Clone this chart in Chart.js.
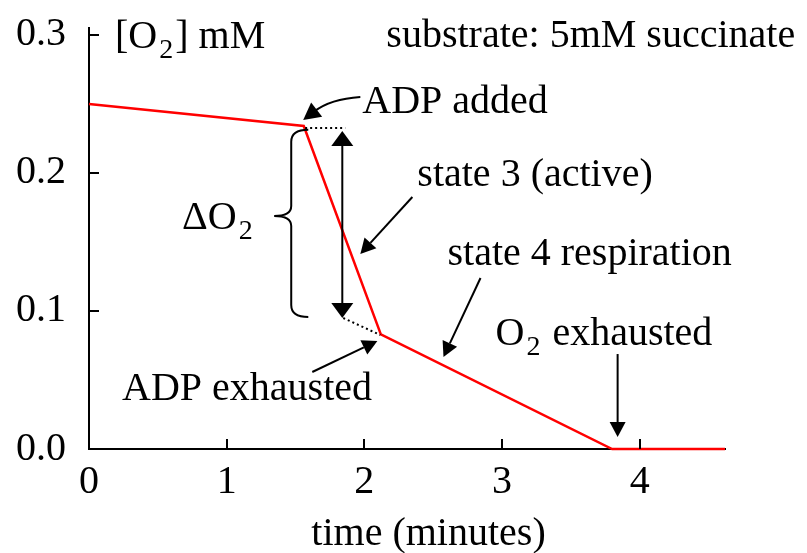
<!DOCTYPE html>
<html><head><meta charset="utf-8">
<script src="https://cdn.jsdelivr.net/npm/chart.js@4"></script>
<style>html,body{margin:0;padding:0;background:#fff;overflow:hidden}</style>
</head><body>
<canvas id="c" width="807" height="553"></canvas>
<script>
// ---- data ----
const timeMin = [0, 1.56, 2.12, 3.80, 4.62];
const o2mM    = [0.250, 0.234, 0.083, 0.0, 0.0];
const xTickValues = [0, 1, 2, 3, 4];
const yTickValues = [0.0, 0.1, 0.2, 0.3];
const xTitle = 'time (minutes)';
const substrateText = 'substrate: 5mM succinate';

const FONT = 'Liberation Serif';
const FS = 40;

// annotation layout (data coordinates)
const texts = [
  {parts:[['[O',0],['2',1],['] mM',0]], x:0.189, y:0.2906},
  {parts:[[substrateText,0]], x:2.160, y:0.2913},
  {parts:[['ADP added',0]], x:1.985, y:0.2435},
  {parts:[['state 3 (active)',0]], x:2.385, y:0.1906},
  {parts:[['\u0394O',0],['2',1]], x:0.676, y:0.1594},
  {parts:[['state 4 respiration',0]], x:2.604, y:0.1333},
  {parts:[['O',0],['2',1],[' exhausted',0]], x:2.953, y:0.0754},
  {parts:[['ADP exhausted',0]], x:0.240, y:0.0355},
  {parts:[[xTitle,0]], x:1.615, y:-0.0696}
];
const arrows = [
  {from:[2.349,0.1826], to:[1.971,0.1413]},
  {from:[2.844,0.1239], to:[2.575,0.0667]},
  {from:[3.84,0.0688],  to:[3.84,0.0087]},
  {from:[1.622,0.0558], to:[2.095,0.0783]}
];

const annot = {
  id:'annot',
  afterDraw(chart){
    const ctx = chart.ctx, xs = chart.scales.x, ys = chart.scales.y;
    const P = (x,y)=>[xs.getPixelForValue(x), ys.getPixelForValue(y)];
    ctx.save();
    // inward tick marks
    ctx.strokeStyle='#000'; ctx.lineWidth=2;
    const x0 = xs.getPixelForValue(0), y0 = ys.getPixelForValue(0);
    yTickValues.forEach(v=>{ if(v===0) return; const py=Math.round(ys.getPixelForValue(v)); ctx.beginPath(); ctx.moveTo(x0,py); ctx.lineTo(x0+10,py); ctx.stroke(); });
    xTickValues.forEach(v=>{ if(v===0) return; const px=Math.round(xs.getPixelForValue(v)); ctx.beginPath(); ctx.moveTo(px,y0); ctx.lineTo(px,y0-10); ctx.stroke(); });

    // texts
    ctx.fillStyle='#000'; ctx.textBaseline='alphabetic'; ctx.textAlign='left';
    texts.forEach(t=>{
      let [px,py] = P(t.x,t.y);
      t.parts.forEach(([s,sub])=>{
        if(sub){ ctx.font = '28px "'+FONT+'"'; ctx.fillText(s, px+2, py+10); px += ctx.measureText(s).width+4; }
        else { ctx.font = FS+'px "'+FONT+'"'; ctx.fillText(s, px, py); px += ctx.measureText(s).width; }
      });
    });

    function head(tx,ty,fx,fy,len,hw){
      const a=Math.atan2(ty-fy,tx-fx), c=Math.cos(a), s=Math.sin(a);
      const bx=tx-len*c, by=ty-len*s;
      ctx.beginPath(); ctx.moveTo(tx,ty); ctx.lineTo(bx - hw*s, by + hw*c); ctx.lineTo(bx + hw*s, by - hw*c); ctx.closePath(); ctx.fill();
      return [bx,by];
    }
    ctx.lineWidth=2; ctx.strokeStyle='#000'; ctx.fillStyle='#000';
    arrows.forEach(a=>{
      const [fx,fy]=P(...a.from), [tx,ty]=P(...a.to);
      const [bx,by]=head(tx,ty,fx,fy,15,8);
      ctx.beginPath(); ctx.moveTo(fx,fy); ctx.lineTo(bx,by); ctx.stroke();
    });
    // curved ADP added arrow
    {
      const [sx,sy]=P(1.971,0.2551), [cx,cy]=P(1.753,0.2536), [tx,ty]=P(1.556,0.2384);
      head(tx,ty,cx,cy,17,9);
      const a=Math.atan2(ty-cy,tx-cx);
      ctx.beginPath(); ctx.moveTo(sx,sy); ctx.quadraticCurveTo(cx,cy,tx-14*Math.cos(a),ty-14*Math.sin(a)); ctx.stroke();
    }
    // double arrow
    {
      const [ax,ay]=P(1.84,0.2304), [bx2,by2]=P(1.84,0.0949);
      head(ax,ay,ax,ay+50,15,11);
      head(bx2,by2,bx2,by2-50,15,11);
      ctx.beginPath(); ctx.moveTo(ax,ay+14); ctx.lineTo(bx2,by2-14); ctx.stroke();
    }
    // dotted lines
    ctx.setLineDash([2,3]); ctx.lineWidth=2;
    {
      let [a1,b1]=P(1.57,0.2326), [a2,b2]=P(1.862,0.2326);
      ctx.beginPath(); ctx.moveTo(a1,b1); ctx.lineTo(a2,b2); ctx.stroke();
      [a1,b1]=P(1.847,0.0949); [a2,b2]=P(2.116,0.0826);
      ctx.beginPath(); ctx.moveTo(a1,b1); ctx.lineTo(a2,b2); ctx.stroke();
    }
    ctx.setLineDash([]);
    // brace
    {
      const xR=xs.getPixelForValue(1.593), xM=xs.getPixelForValue(1.469), xL=xs.getPixelForValue(1.345);
      const yT=ys.getPixelForValue(0.2312), yC=ys.getPixelForValue(0.1688), yB=ys.getPixelForValue(0.0957);
      ctx.lineWidth=2;
      ctx.beginPath();
      ctx.moveTo(xR,yT);
      ctx.quadraticCurveTo(xM,yT,xM,yT+12);
      ctx.lineTo(xM,yC-10);
      ctx.quadraticCurveTo(xM,yC,xL,yC);
      ctx.quadraticCurveTo(xM,yC,xM,yC+10);
      ctx.lineTo(xM,yB-12);
      ctx.quadraticCurveTo(xM,yB,xR,yB);
      ctx.stroke();
    }
    ctx.restore();
  }
};

new Chart(document.getElementById('c'), {
  type:'line',
  data:{ datasets:[{
    data: timeMin.map((t,i)=>({x:t, y:o2mM[i]})),
    borderColor:'#ff0000', borderWidth:2.5, pointRadius:0, tension:0, clip:false, fill:false
  }]},
  options:{
    responsive:false, animation:false, devicePixelRatio:1,
    layout:{padding:{top:28, right:82, left:0, bottom:0}},
    plugins:{legend:{display:false}, tooltip:{enabled:false}},
    scales:{
      x:{type:'linear', min:0, max:4.62,
        grid:{display:false, drawTicks:false},
        border:{display:true, color:'#000', width:2},
        ticks:{stepSize:1, includeBounds:false, color:'#000', padding:9, maxRotation:0,
          font:{family:FONT, size:FS}},
        afterBuildTicks:s=>{ s.ticks = xTickValues.map(v=>({value:v})); },
        afterFit:s=>{ s.height = 104; s.paddingLeft = 0; s.paddingRight = 0; }
      },
      y:{type:'linear', min:0, max:0.305,
        grid:{display:false, drawTicks:false},
        border:{display:true, color:'#000', width:2},
        ticks:{stepSize:0.1, includeBounds:false, color:'#000', padding:23,
          font:{family:FONT, size:FS}, callback:v=>Number(v).toFixed(1)},
        afterBuildTicks:s=>{ s.ticks = yTickValues.map(v=>({value:v})); },
        afterFit:s=>{ s.width = 89; s.paddingTop = 0; s.paddingBottom = 0; }
      }
    }
  },
  plugins:[annot]
});
</script>
</body></html>
